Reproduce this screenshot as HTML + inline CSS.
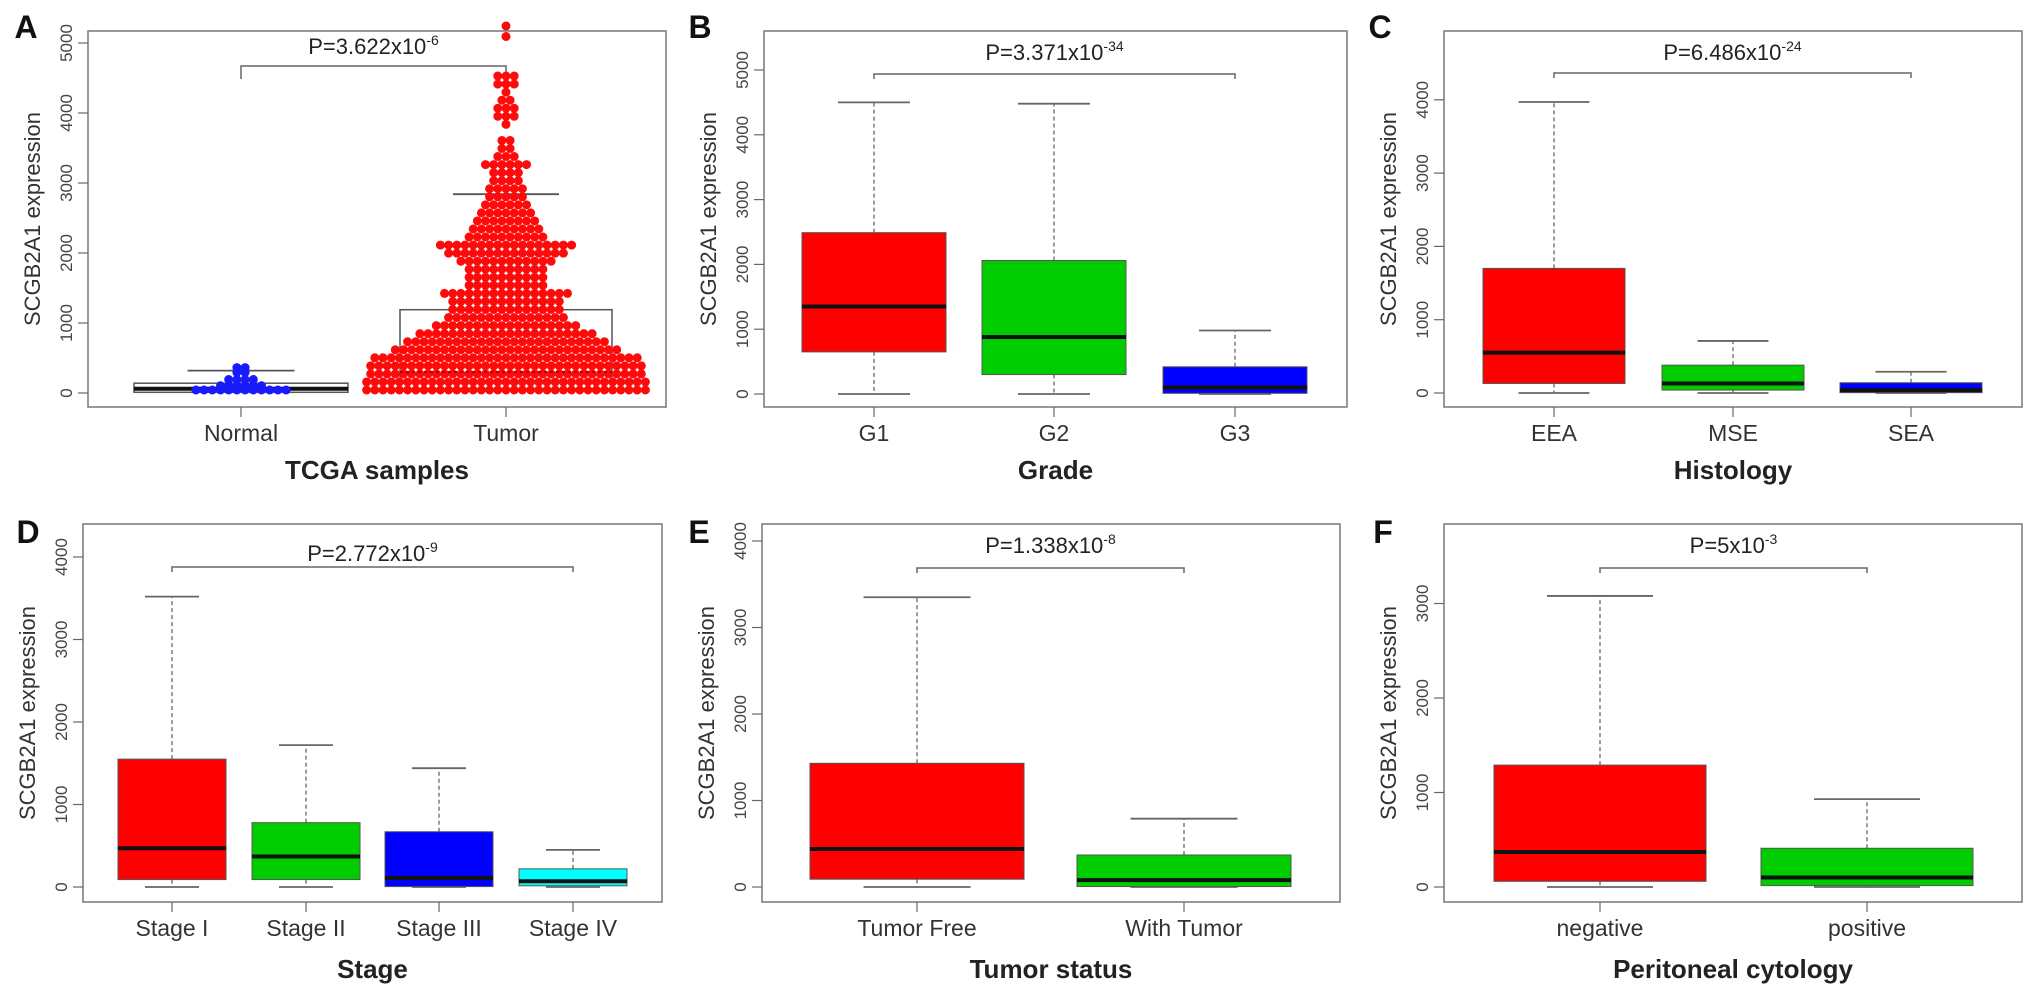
<!DOCTYPE html>
<html><head><meta charset="utf-8">
<style>
html,body{margin:0;padding:0;background:#fff;}
svg{display:block;font-family:"Liberation Sans",Arial,sans-serif;}
</style></head>
<body>
<svg id="fig" width="2031" height="999" viewBox="0 0 2031 999" xmlns="http://www.w3.org/2000/svg"></svg>
<script>
// ---- Panel A data (beeswarm) ----
const aCategories = ["Normal", "Tumor"];
const aTicks = [0, 1000, 2000, 3000, 4000, 5000];
const tumorLevels = [0,115,230,345,460,575,690,805,920,1035,1150,1265,1380,1495,1610,1725,1840,1955,2070,2185,2300,2415,2530,2645,2760,2875,2990,3105,3220,3335,3450,3565,3795,3910,4025,4140,4255,4370,4485,5050,5200];
const tumorCounts = [35,35,34,34,33,28,25,22,18,15,14,14,16,10,10,10,12,15,17,10,9,8,7,6,5,5,4,4,6,3,2,2,1,3,3,2,1,3,3,1,1];
const normalLevels = [0,60,150,250,320];
const normalCounts = [12,6,4,2,2];
const aBoxQ1 = [10, 40];
const aBoxMed = [60, 300];
const aBoxQ3 = [140, 1190];
const aWhiskHi = [320, 2840];
const aP = ["P=3.622x10", "-6"];

// ---- Panel B ----
const bCategories = ["G1","G2","G3"];
const bTicks = [0,1000,2000,3000,4000,5000];
const bQ1 = [650, 300, 10];
const bMed = [1350, 880, 100];
const bQ3 = [2490, 2060, 420];
const bLo = [0, 0, 0];
const bHi = [4500, 4480, 980];
const bColors = ["#ff0000","#00cc00","#0000ff"];

// ---- Panel C ----
const cCategories = ["EEA","MSE","SEA"];
const cTicks = [0,1000,2000,3000,4000];
const cQ1 = [130, 40, 5];
const cMed = [550, 130, 40];
const cQ3 = [1700, 380, 140];
const cLo = [0, 0, 0];
const cHi = [3970, 710, 290];

// ---- Panel D ----
const dCategories = ["Stage I","Stage II","Stage III","Stage IV"];
const dTicks = [0,1000,2000,3000,4000];
const dQ1 = [90, 90, 5, 15];
const dMed = [470, 370, 110, 70];
const dQ3 = [1550, 780, 670, 220];
const dLo = [0, 0, 0, 0];
const dHi = [3520, 1720, 1440, 450];

// ---- Panel E ----
const eCategories = ["Tumor Free","With Tumor"];
const eTicks = [0,1000,2000,3000,4000];
const eQ1 = [90, 5];
const eMed = [440, 80];
const eQ3 = [1430, 370];
const eLo = [0, 0];
const eHi = [3350, 790];

// ---- Panel F ----
const fCategories = ["negative","positive"];
const fTicks = [0,1000,2000,3000];
const fQ1 = [60, 15];
const fMed = [370, 100];
const fQ3 = [1290, 410];
const fLo = [0, 0];
const fHi = [3080, 930];

const NS = "http://www.w3.org/2000/svg";
const svg = document.getElementById("fig");
function mk(tag, attrs, parent, text){
  const e = document.createElementNS(NS, tag);
  for (const k in attrs) e.setAttribute(k, attrs[k]);
  if (text !== undefined) e.textContent = text;
  (parent || svg).appendChild(e);
  return e;
}
const GRAY = "#666";

function panel(o){
  const g = mk("g", {});
  
  
  const y = v => o.y0 - v * o.per1000 / 1000;
  const xAt = i => o.xs[i];
  const L = mk("text", {x:o.letterX, y:o.letterY, "font-size":32, "font-weight":"bold", fill:"#111", "text-anchor":"middle"}, g, o.letter);
  
  
  const fr = mk("rect", {x:o.left, y:o.top, width:o.right-o.left, height:o.bottom-o.top, fill:"none", stroke:"#777", "stroke-width":1.5}, g);
  
  
  o.ticks.forEach(t => {
    const ty = y(t);
    const tk = mk("line", {x1:o.left-10, x2:o.left, y1:ty, y2:ty, stroke:GRAY, "stroke-width":1.2}, g);
    
    
    const tl = mk("text", {x:0, y:0, "font-size":17, fill:"#444", "text-anchor":"middle", transform:`translate(${o.left-16},${ty}) rotate(-90)`}, g, String(t));
    
    
  });
  const yt = mk("text", {x:0, y:0, "font-size":22, fill:"#333", "text-anchor":"middle", transform:`translate(${o.left-48},${(o.top+o.bottom)/2}) rotate(-90)`}, g, "SCGB2A1 expression");
  
  
  o.cats.forEach((c,i) => {
    const tk = mk("line", {x1:xAt(i), x2:xAt(i), y1:o.bottom, y2:o.bottom+10, stroke:GRAY, "stroke-width":1.2}, g);
    
    
    const tl = mk("text", {x:xAt(i), y:o.bottom+34, "font-size":23, fill:"#333", "text-anchor":"middle"}, g, c);
    
    
  });
  const xt = mk("text", {x:(o.left+o.right)/2, y:o.titleY, "font-size":26, fill:"#222", "text-anchor":"middle", "font-weight":"bold"}, g, o.xtitle);
  
  
  const bx1 = xAt(o.br[0]), bx2 = xAt(o.br[1]);
  const br = mk("path", {d:`M${bx1},${o.brY+o.brDrop[0]} L${bx1},${o.brY} L${bx2},${o.brY} L${bx2},${o.brY+o.brDrop[1]}`, fill:"none", stroke:GRAY, "stroke-width":1.5}, g);
  
  
  const pt = mk("text", {x:(bx1+bx2)/2, y:o.pY, "font-size":22, fill:"#222", "text-anchor":"middle"}, g);
  
  
  mk("tspan", {}, pt, o.p[0]);
  mk("tspan", {dy:-9, "font-size":14}, pt, o.p[1]);
  return {g, y, xAt};
}

function boxes(P, o, q1, med, q3, lo, hi, colors, hw){
  q1.forEach((_,i) => {
    const cx = P.xAt(i);
    const bg = mk("g", {}, P.g);
    
    
    const cw = hw * 0.5;
    mk("line", {x1:cx, x2:cx, y1:P.y(q3[i]), y2:P.y(hi[i]), stroke:GRAY, "stroke-width":1.3, "stroke-dasharray":"4,3"}, bg);
    mk("line", {x1:cx, x2:cx, y1:P.y(q1[i]), y2:P.y(lo[i]), stroke:GRAY, "stroke-width":1.3, "stroke-dasharray":"4,3"}, bg);
    mk("line", {x1:cx-cw, x2:cx+cw, y1:P.y(hi[i]), y2:P.y(hi[i]), stroke:GRAY, "stroke-width":1.8}, bg);
    mk("line", {x1:cx-cw, x2:cx+cw, y1:P.y(lo[i]), y2:P.y(lo[i]), stroke:GRAY, "stroke-width":1.8}, bg);
    mk("rect", {x:cx-hw, y:P.y(q3[i]), width:2*hw, height:P.y(q1[i])-P.y(q3[i]), fill:colors[i], stroke:"#555", "stroke-width":1}, bg);
    mk("line", {x1:cx-hw, x2:cx+hw, y1:P.y(med[i]), y2:P.y(med[i]), stroke:"#111", "stroke-width":4}, bg);
  });
}

// ---------- Panel A ----------
const oA = {name:"panel-a-tcga", letter:"A", letterX:26, letterY:38, left:88, right:666, top:31, bottom:407, y0:393, per1000:70,
  ticks:aTicks, cats:aCategories, xs:[241,506], xtitle:"TCGA samples", titleY:479, br:[0,1], brY:66, brDrop:[13,6], pY:54, p:aP};
const PA = panel(oA);
(function(){
  const hw = [107,106];
  [0,1].forEach(i => {
    const cx = PA.xAt(i);
    const bg = mk("g", {}, PA.g);
    
    
    mk("rect", {x:cx-hw[i], y:PA.y(aBoxQ3[i]), width:2*hw[i], height:PA.y(aBoxQ1[i])-PA.y(aBoxQ3[i]), fill:"none", stroke:"#555", "stroke-width":1.5}, bg);
    mk("line", {x1:cx-hw[i]*0.5, x2:cx+hw[i]*0.5, y1:PA.y(aWhiskHi[i]), y2:PA.y(aWhiskHi[i]), stroke:"#555", "stroke-width":1.8}, bg);
  });
  mk("line", {x1:PA.xAt(0)-107, x2:PA.xAt(0)+107, y1:PA.y(aBoxMed[0]), y2:PA.y(aBoxMed[0]), stroke:"#111", "stroke-width":4}, PA.g);
  function swarm(levels, counts, cx, color, name){
    const sg = mk("g", {}, PA.g);
    
    
    levels.forEach((v, r) => {
      const n = counts[r];
      const yy = PA.y(v) - 3;
      for (let k = 0; k < n; k++){
        const x = cx + (k - (n-1)/2) * 8.2;
        const c = mk("circle", {cx:x, cy:yy, r:4.5, fill:color}, sg);
        
        
      }
    });
  }
  swarm(normalLevels, normalCounts, PA.xAt(0), "#1a1aff", "normal-points");
  swarm(tumorLevels, tumorCounts, PA.xAt(1), "#ff0a0a", "tumor-points");
  mk("line", {x1:PA.xAt(1)-106, x2:PA.xAt(1)+106, y1:PA.y(aBoxMed[1]), y2:PA.y(aBoxMed[1]), stroke:"#a00", "stroke-width":2, "stroke-dasharray":"3,3"}, PA.g);
})();

// ---------- Panel B ----------
const oB = {name:"panel-b-grade", letter:"B", letterX:700, letterY:38, left:764, right:1347, top:31, bottom:407, y0:394, per1000:64.8,
  ticks:bTicks, cats:bCategories, xs:[874,1054,1235], xtitle:"Grade", titleY:479, br:[0,2], brY:74, brDrop:[5,5], pY:60, p:["P=3.371x10","-34"]};
const PB = panel(oB);
boxes(PB, oB, bQ1, bMed, bQ3, bLo, bHi, bColors, 72);

// ---------- Panel C ----------
const oC = {name:"panel-c-histology", letter:"C", letterX:1380, letterY:38, left:1444, right:2022, top:31, bottom:407, y0:393, per1000:73.3,
  ticks:cTicks, cats:cCategories, xs:[1554,1733,1911], xtitle:"Histology", titleY:479, br:[0,2], brY:73, brDrop:[5,5], pY:60, p:["P=6.486x10","-24"]};
const PC = panel(oC);
boxes(PC, oC, cQ1, cMed, cQ3, cLo, cHi, bColors, 71);

// ---------- Panel D ----------
const oD = {name:"panel-d-stage", letter:"D", letterX:28, letterY:543, left:83, right:662, top:524, bottom:902, y0:887, per1000:82.5,
  ticks:dTicks, cats:dCategories, xs:[172,306,439,573], xtitle:"Stage", titleY:978, br:[0,3], brY:567, brDrop:[5,5], pY:561, p:["P=2.772x10","-9"]};
const PD = panel(oD);
boxes(PD, oD, dQ1, dMed, dQ3, dLo, dHi, ["#ff0000","#00cc00","#0000ff","#00ffff"], 54);

// ---------- Panel E ----------
const oE = {name:"panel-e-tumor-status", letter:"E", letterX:699, letterY:543, left:762, right:1340, top:524, bottom:902, y0:887, per1000:86.5,
  ticks:eTicks, cats:eCategories, xs:[917,1184], xtitle:"Tumor status", titleY:978, br:[0,1], brY:568, brDrop:[5,5], pY:553, p:["P=1.338x10","-8"]};
const PE = panel(oE);
boxes(PE, oE, eQ1, eMed, eQ3, eLo, eHi, ["#ff0000","#00cc00"], 107);

// ---------- Panel F ----------
const oF = {name:"panel-f-peritoneal-cytology", letter:"F", letterX:1383, letterY:543, left:1444, right:2022, top:524, bottom:902, y0:887, per1000:94.5,
  ticks:fTicks, cats:fCategories, xs:[1600,1867], xtitle:"Peritoneal cytology", titleY:978, br:[0,1], brY:568, brDrop:[5,5], pY:553, p:["P=5x10","-3"]};
const PF = panel(oF);
boxes(PF, oF, fQ1, fMed, fQ3, fLo, fHi, ["#ff0000","#00cc00"], 106);
</script>
</body></html>
